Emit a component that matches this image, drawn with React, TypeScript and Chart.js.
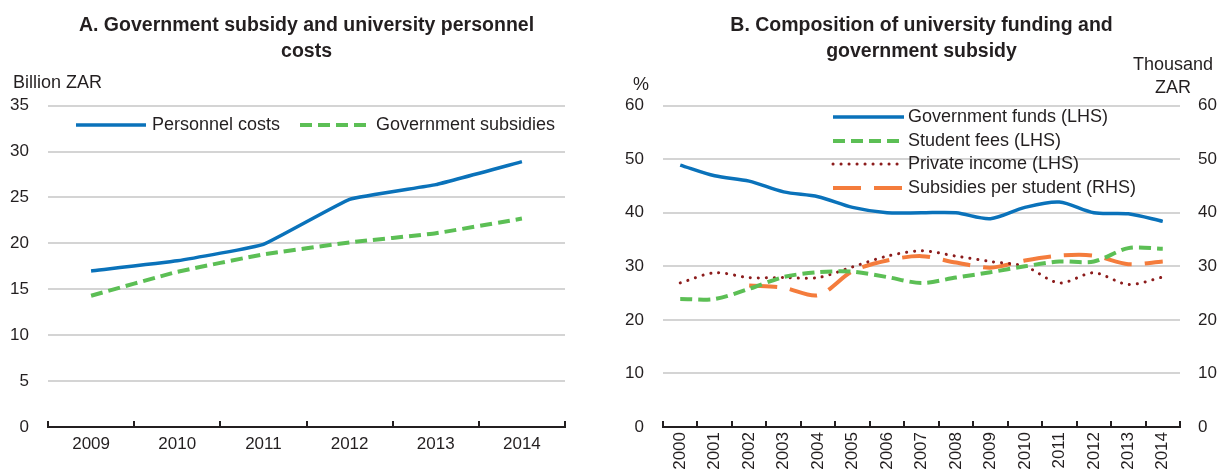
import React, { useEffect, useRef } from "react";
import { Chart, registerables } from "chart.js";

Chart.register(...registerables);

// ---------- Data ----------
const yearsA = ["2009", "2010", "2011", "2012", "2013", "2014"];
const personnelCosts = [17.0, 18.1, 19.9, 24.8, 26.4, 28.9];
const governmentSubsidies = [14.3, 16.9, 18.8, 20.1, 21.1, 22.7];

const yearsB = [
  "2000", "2001", "2002", "2003", "2004", "2005", "2006", "2007",
  "2008", "2009", "2010", "2011", "2012", "2013", "2014",
];
const governmentFunds = [48.9, 46.9, 45.9, 43.9, 43.0, 41.0, 40.0, 40.0, 40.0, 38.9, 41.0, 42.0, 40.0, 39.8, 38.4];
const studentFees = [23.9, 23.9, 25.8, 28.0, 28.9, 29.0, 28.0, 26.9, 27.9, 28.9, 30.0, 30.9, 30.9, 33.4, 33.3];
const privateIncome = [26.9, 28.8, 27.9, 27.9, 27.9, 29.9, 31.9, 32.9, 31.9, 30.9, 30.0, 26.9, 28.8, 26.6, 28.0];
const subsidiesPerStudent = [null, null, 26.4, 26.0, 24.6, 29.1, 31.1, 31.9, 30.7, 29.75, 31.1, 32.0, 32.0, 30.4, 30.9];

const ticksA = { min: 0, max: 35, step: 5 };
const ticksB = { min: 0, max: 60, step: 10 };

const titleA = ["A. Government subsidy and university personnel", "costs"];
const titleB = ["B. Composition of university funding and", "government subsidy"];

// ---------- Styles ----------
const FONT = "'Liberation Sans', Arial, sans-serif";
const TEXT = "#231f20";
const GRID = "#d4d4d4";
const AXIS = "#231f20";
const BLUE = "#0a72ba";
const GREEN = "#5cbf55";
const DARKRED = "#8c1c1c";
const ORANGE = "#f47c3c";
const LABEL_SIZE = 18;

const overlayPlugin = {
  id: "overlay",
  afterDraw(chart: any, _args: any, opts: any) {
    const ctx = chart.ctx;
    ctx.save();
    ctx.fillStyle = TEXT;
    ctx.textBaseline = "middle";
    ctx.font = `${LABEL_SIZE}px ${FONT}`;
    for (const t of opts.texts || []) {
      ctx.textAlign = t.align || "left";
      ctx.fillText(t.text, t.x, t.y);
    }
    const lg = opts.legend;
    if (lg) {
      chart.data.datasets.forEach((ds: any, i: number) => {
        const p = lg.items[i];
        ctx.save();
        ctx.strokeStyle = ds.borderColor;
        ctx.lineWidth = ds.borderWidth;
        ctx.lineCap = ds.borderCapStyle || "butt";
        ctx.setLineDash(ds.borderDash || []);
        ctx.beginPath();
        ctx.moveTo(p.x, p.y);
        ctx.lineTo(p.x + lg.lineLen, p.y);
        ctx.stroke();
        ctx.restore();
        ctx.textAlign = "left";
        ctx.fillStyle = TEXT;
        ctx.fillText(ds.label, p.x + lg.lineLen + lg.gap, p.y);
      });
    }
    ctx.restore();
  },
};

const tickFont = { family: FONT, size: 17 };
const titleFont = { family: FONT, size: 19.5, weight: "bold" as const, lineHeight: 1.35 };

function xScale(rotated: boolean) {
  return {
    type: "category" as const,
    offset: true,
    grid: {
      display: true,
      offset: true,
      drawOnChartArea: false,
      drawTicks: true,
      tickLength: -6,
      color: AXIS,
      lineWidth: 2,
    },
    border: { display: true, color: AXIS, width: 2 },
    ticks: rotated
      ? { font: tickFont, color: TEXT, padding: 11, minRotation: 90, maxRotation: 90, autoSkip: false }
      : { font: tickFont, color: TEXT, padding: 13, maxRotation: 0, autoSkip: false },
    afterFit: (s: any) => {
      s.height = 43;
    },
  };
}

function ChartA() {
  const ref = useRef<HTMLCanvasElement>(null);
  useEffect(() => {
    const chart = new Chart(ref.current!, {
      type: "line",
      data: {
        labels: yearsA,
        datasets: [
          {
            label: "Personnel costs",
            data: personnelCosts,
            borderColor: BLUE,
            borderWidth: 3.5,
            pointRadius: 0,
            tension: 0.1,
          },
          {
            label: "Government subsidies",
            data: governmentSubsidies,
            borderColor: GREEN,
            borderWidth: 4,
            borderDash: [12, 6],
            pointRadius: 0,
            tension: 0.1,
          },
        ],
      },
      options: {
        animation: false,
        responsive: false,
        maintainAspectRatio: false,
        layout: { padding: { left: 0, right: 35, top: 0, bottom: 0 } },
        plugins: {
          legend: { display: false },
          tooltip: { enabled: false },
          title: {
            display: true,
            text: titleA,
            font: titleFont,
            color: TEXT,
            fullSize: false,
            padding: { top: 12, bottom: 41 },
          },
          overlay: {
            texts: [{ text: "Billion ZAR", x: 13, y: 83, align: "left" }],
            legend: {
              lineLen: 70,
              gap: 6,
              items: [
                { x: 76, y: 125 },
                { x: 300, y: 125 },
              ],
            },
          },
        } as any,
        scales: {
          x: xScale(false) as any,
          y: {
            min: ticksA.min,
            max: ticksA.max,
            ticks: { stepSize: ticksA.step, font: tickFont, color: TEXT, padding: 19 },
            grid: { color: GRID, lineWidth: 2, drawTicks: false },
            border: { display: false },
            afterFit: (s: any) => {
              s.width = 48;
            },
          } as any,
        },
      },
      plugins: [overlayPlugin],
    });
    return () => chart.destroy();
  }, []);
  return (
    <canvas
      ref={ref}
      width={600}
      height={470}
      style={{ position: "absolute", left: 0, top: 0, width: 600, height: 470 }}
    />
  );
}

function ChartB() {
  const ref = useRef<HTMLCanvasElement>(null);
  useEffect(() => {
    const chart = new Chart(ref.current!, {
      type: "line",
      data: {
        labels: yearsB,
        datasets: [
          {
            label: "Government funds (LHS)",
            data: governmentFunds,
            borderColor: BLUE,
            borderWidth: 3.5,
            pointRadius: 0,
            tension: 0.3,
            yAxisID: "y",
          },
          {
            label: "Student fees (LHS)",
            data: studentFees,
            borderColor: GREEN,
            borderWidth: 4,
            borderDash: [12, 6],
            pointRadius: 0,
            tension: 0.3,
            yAxisID: "y",
          },
          {
            label: "Private income (LHS)",
            data: privateIncome,
            borderColor: DARKRED,
            borderWidth: 3,
            borderDash: [0.1, 7.9],
            borderCapStyle: "round",
            pointRadius: 0,
            tension: 0.3,
            yAxisID: "y",
          },
          {
            label: "Subsidies per student (RHS)",
            data: subsidiesPerStudent,
            borderColor: ORANGE,
            borderWidth: 4,
            borderDash: [28, 13],
            pointRadius: 0,
            tension: 0.3,
            yAxisID: "y1",
          },
        ],
      },
      options: {
        animation: false,
        responsive: false,
        maintainAspectRatio: false,
        layout: { padding: { left: 0, right: 0, top: 0, bottom: 0 } },
        plugins: {
          legend: { display: false },
          tooltip: { enabled: false },
          title: {
            display: true,
            text: titleB,
            font: titleFont,
            color: TEXT,
            fullSize: false,
            padding: { top: 12, bottom: 41 },
          },
          overlay: {
            texts: [
              { text: "%", x: 41, y: 85, align: "center" },
              { text: "Thousand", x: 573, y: 65, align: "center" },
              { text: "ZAR", x: 573, y: 88, align: "center" },
            ],
            legend: {
              lineLen: 71,
              gap: 4,
              items: [
                { x: 233, y: 117 },
                { x: 233, y: 141 },
                { x: 233, y: 164 },
                { x: 233, y: 188 },
              ],
            },
          },
        } as any,
        scales: {
          x: xScale(true) as any,
          y: {
            position: "left",
            min: ticksB.min,
            max: ticksB.max,
            ticks: { stepSize: ticksB.step, font: tickFont, color: TEXT, padding: 19 },
            grid: { color: GRID, lineWidth: 2, drawTicks: false },
            border: { display: false },
            afterFit: (s: any) => {
              s.width = 63;
            },
          } as any,
          y1: {
            position: "right",
            min: ticksB.min,
            max: ticksB.max,
            ticks: { stepSize: ticksB.step, font: tickFont, color: TEXT, padding: 18 },
            grid: { drawOnChartArea: false, drawTicks: false },
            border: { display: false },
            afterFit: (s: any) => {
              s.width = 41;
            },
          } as any,
        },
      },
      plugins: [overlayPlugin],
    });
    return () => chart.destroy();
  }, []);
  return (
    <canvas
      ref={ref}
      width={621}
      height={470}
      style={{ position: "absolute", left: 600, top: 0, width: 621, height: 470 }}
    />
  );
}

export default function App() {
  return (
    <div
      style={{
        position: "absolute",
        left: 0,
        top: 0,
        width: 1221,
        height: 470,
        background: "#ffffff",
        overflow: "hidden",
      }}
    >
      <ChartA />
      <ChartB />
    </div>
  );
}
